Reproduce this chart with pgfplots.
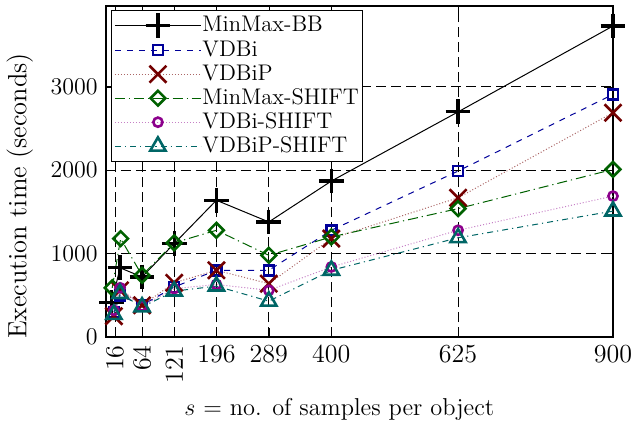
\documentclass[border=0pt,12pt]{standalone}
\usepackage{pgfplots}
\pgfplotsset{compat=1.18}

\definecolor{cvdbi}{rgb}{0,0,0.6}
\definecolor{cvdbip}{rgb}{0.45,0,0}
\definecolor{cmms}{rgb}{0,0.38,0}
\definecolor{cvdbis}{rgb}{0.55,0,0.55}
\definecolor{cvdbips}{rgb}{0,0.4,0.4}

\begin{document}
\begin{tikzpicture}
  \begin{axis}[
      scale only axis,
      width=253.5pt, height=165.5pt,
      xmin=0, xmax=900,
      ymin=0, ymax=3970,
      xtick={16,64,121,196,289,400,625,900},
      xticklabels={\rotatebox{90}{16},\rotatebox{90}{64},\rotatebox{90}{121},196,289,400,625,900},
      ytick={0,1000,2000,3000},
      /pgf/number format/1000 sep={},
      tick label style={font=\fontsize{13}{15}\selectfont},
      xlabel={$s$ = no. of samples per object},
      ylabel={Execution time (seconds)},
      xlabel style={at={(axis description cs:0.46,-0.22)}, anchor=center,
        font=\fontsize{12.2}{14}\selectfont},
      ylabel style={at={(axis description cs:-0.17,0.426)}, anchor=center,
        font=\fontsize{13.2}{15}\selectfont},
      grid=major,
      grid style={black, line width=0.5pt, dash pattern=on 5pt off 2.5pt},
      tick style={black},
      axis line style={line width=0.6pt},
      legend style={at={(axis description cs:0.0099,0.988)}, anchor=north west,
        draw=black, inner sep=1.5pt, row sep=0pt,
        font=\fontsize{11.3}{13}\selectfont,
        nodes={inner sep=0.5pt, text height=8.5pt, text depth=2.5pt},
        /tikz/every even column/.append style={column sep=0pt}},
      legend cell align=left,
      legend image code/.code={
        \draw[mark repeat=2, mark phase=2]
          plot coordinates {(0pt,0pt) (21.5pt,0pt) (43pt,0pt)};
      },
      every axis plot/.append style={line width=0.5pt},
    ]
    % MinMax-BB
    \addplot[black, solid, mark=+, mark size=6.2pt,
      mark options={solid, line width=1.6pt}] coordinates {
      (10,410)(25,830)(64,720)(121,1120)(196,1640)(289,1380)(400,1870)(625,2700)(900,3730)
    };
    \addlegendentry{MinMax-BB}

    % VDBi
    \addplot[cvdbi, dash pattern=on 3pt off 3pt, mark=square, mark size=2.5pt,
      mark options={solid, line width=1.3pt}] coordinates {
      (14,300)(25,500)(64,380)(121,600)(196,800)(289,800)(400,1280)(625,1990)(900,2910)
    };
    \addlegendentry{VDBi}

    % VDBiP
    \addplot[cvdbip!60!white, dash pattern=on 0.5pt off 1pt, mark=x, mark size=6pt,
      mark options={solid, cvdbip, line width=1.3pt}] coordinates {
      (14,250)(25,560)(64,380)(121,650)(196,800)(289,640)(400,1180)(625,1670)(900,2690)
    };
    \addlegendentry{VDBiP}

    % MinMax-SHIFT
    \addplot[cmms, dash pattern=on 5pt off 2pt on 0.6pt off 2pt, mark=square,
      mark size=2.6pt,
      mark options={solid, rotate=45, line width=1.3pt}] coordinates {
      (11,590)(26,1180)(64,740)(121,1130)(196,1280)(289,980)(400,1200)(625,1540)(900,2010)
    };
    \addlegendentry{MinMax-SHIFT}

    % VDBi-SHIFT
    \addplot[cvdbis!50!white, dash pattern=on 0.5pt off 1pt, mark=o, mark size=2.3pt,
      mark options={solid, cvdbis, line width=1.3pt}] coordinates {
      (14,320)(25,590)(64,370)(121,580)(196,630)(289,560)(400,840)(625,1280)(900,1690)
    };
    \addlegendentry{VDBi-SHIFT}

    % VDBiP-SHIFT
    \addplot[cvdbips, dash pattern=on 3pt off 2pt on 0.6pt off 2pt, mark=triangle,
      mark size=4.4pt,
      mark options={solid, line width=1.3pt}] coordinates {
      (14,270)(25,520)(64,360)(121,550)(196,610)(289,430)(400,800)(625,1190)(900,1510)
    };
    \addlegendentry{VDBiP-SHIFT}
  \end{axis}
  \pgfresetboundingbox
  \path (-53pt,-43.5pt) rectangle (263pt,168.5pt);
\end{tikzpicture}
\end{document}
